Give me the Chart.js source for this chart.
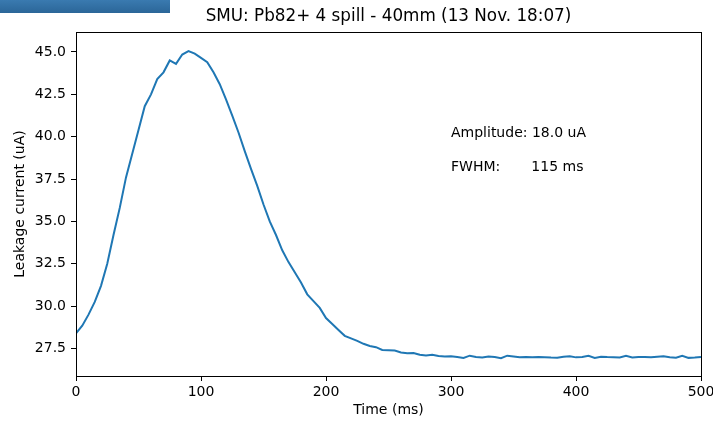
<!DOCTYPE html>
<html>
<head>
<meta charset="utf-8">
<script src="https://cdn.jsdelivr.net/npm/chart.js@4"></script>
<style>
  html, body { margin: 0; padding: 0; background: #fff; }
  #wrap { position: relative; width: 713px; height: 421px; }
  #bar { position: absolute; left: 0; top: 0; width: 170px; height: 13px;
         background: linear-gradient(#3a7ab0, #2b6698); }
</style>
</head>
<body>
<div id="wrap">
  <canvas id="chart" width="713" height="421"></canvas>
  <div id="bar"></div>
</div>
<script>
// Time axis (ms) and measured leakage current (uA)
const times = [
  0, 5, 10, 15, 20, 25, 30, 35, 40, 45, 50, 55, 60, 65, 70, 75, 80, 85, 90, 95,
  100, 105, 110, 115, 120, 125, 130, 135, 140, 145, 150, 155, 160, 165, 170, 175, 180, 185, 190, 195,
  200, 205, 210, 215, 220, 225, 230, 235, 240, 245, 250, 255, 260, 265, 270, 275, 280, 285, 290, 295,
  300, 305, 310, 315, 320, 325, 330, 335, 340, 345, 350, 355, 360, 365, 370, 375, 380, 385, 390, 395,
  400, 405, 410, 415, 420, 425, 430, 435, 440, 445, 450, 455, 460, 465, 470, 475, 480, 485, 490, 495, 500
];
const current = [
  28.40, 28.85, 29.50, 30.25, 31.20, 32.50, 34.20, 35.80, 37.60, 39.00, 40.40, 41.80, 42.50, 43.40, 43.80, 44.50, 44.30, 44.85, 45.05, 44.90,
  44.65, 44.40, 43.80, 43.10, 42.20, 41.25, 40.25, 39.15, 38.10, 37.10, 36.00, 35.00, 34.20, 33.30, 32.60, 32.00, 31.40, 30.70, 30.30, 29.90,
  29.30, 28.95, 28.60, 28.25, 28.10, 27.95, 27.78, 27.65, 27.58, 27.42, 27.40, 27.38, 27.27, 27.22, 27.24, 27.13, 27.09, 27.13, 27.06, 27.03,
  27.05, 27.00, 26.95, 27.08, 27.00, 26.97, 27.03, 27.00, 26.93, 27.08, 27.03, 26.98, 27.00, 26.98, 27.00, 26.99, 26.97, 26.96, 27.02, 27.05,
  26.98, 27.00, 27.07, 26.95, 27.02, 27.00, 26.99, 26.97, 27.07, 26.97, 27.00, 27.00, 26.99, 27.02, 27.05, 26.99, 26.96, 27.07, 26.95, 26.97, 27.00
];
const xTicks = [0, 100, 200, 300, 400, 500];
const yTicks = [27.5, 30.0, 32.5, 35.0, 37.5, 40.0, 42.5, 45.0];
const notes = [
  { x: 300, y: 40.0, text: 'Amplitude: 18.0 uA' },
  { x: 300, y: 38.0, text: 'FWHM:       115 ms' }
];

const font = 'DejaVu Sans';

// box around the axes plus the text annotations
const frameAndNotes = {
  id: 'frameAndNotes',
  afterDraw(chart) {
    const { ctx, chartArea: a, scales } = chart;
    ctx.save();
    ctx.strokeStyle = '#000';
    ctx.lineWidth = 1;
    ctx.strokeRect(Math.round(a.left) + 0.5, Math.round(a.top) + 0.5,
                   Math.round(a.right - a.left), Math.round(a.bottom - a.top));
    ctx.fillStyle = '#000';
    ctx.font = '14px "' + font + '"';
    ctx.textBaseline = 'alphabetic';
    ctx.textAlign = 'left';
    notes.forEach(n => {
      ctx.fillText(n.text, scales.x.getPixelForValue(n.x), scales.y.getPixelForValue(n.y));
    });
    ctx.restore();
  }
};

new Chart(document.getElementById('chart'), {
  type: 'line',
  data: {
    datasets: [{
      data: times.map((t, i) => ({ x: t, y: current[i] })),
      borderColor: '#1f77b4',
      borderWidth: 2,
      pointRadius: 0,
      tension: 0,
      fill: false
    }]
  },
  options: {
    responsive: false,
    animation: false,
    layout: { padding: { left: 0, right: 12, top: 0, bottom: 0 } },
    plugins: {
      legend: { display: false },
      tooltip: { enabled: false },
      title: {
        display: true,
        fullSize: false,
        text: 'SMU: Pb82+ 4 spill - 40mm (13 Nov. 18:07)',
        color: '#000',
        font: { family: font, size: 16.8, weight: 'normal' },
        padding: { top: 7, bottom: 4.84 }
      }
    },
    scales: {
      x: {
        type: 'linear',
        min: 0,
        max: 500,
        afterBuildTicks: s => { s.ticks = xTicks.map(v => ({ value: v })); },
        afterFit: s => { s.height = 45; s.paddingLeft = 0; s.paddingRight = 0; },
        grid: { drawOnChartArea: false, color: '#000', tickLength: 5 },
        border: { color: '#000' },
        ticks: { color: '#000', padding: 3, maxRotation: 0,
                 font: { family: font, size: 14 } },
        title: { display: true, text: 'Time (ms)', color: '#000',
                 font: { family: font, size: 14 }, padding: { top: 0, bottom: 2.6 } }
      },
      y: {
        min: 25.88,
        max: 46.18,
        afterBuildTicks: s => { s.ticks = yTicks.map(v => ({ value: v })); },
        afterFit: s => { s.width = 76; s.paddingTop = 0; s.paddingBottom = 0; },
        grid: { drawOnChartArea: false, color: '#000', tickLength: 5 },
        border: { color: '#000' },
        ticks: { color: '#000', padding: 5,
                 font: { family: font, size: 14 },
                 callback: v => v.toFixed(1) },
        title: { display: true, text: 'Leakage current (uA)', color: '#000',
                 font: { family: font, size: 14 }, padding: { top: 11.6, bottom: 0 } }
      }
    }
  },
  plugins: [frameAndNotes]
});
</script>
</body>
</html>
